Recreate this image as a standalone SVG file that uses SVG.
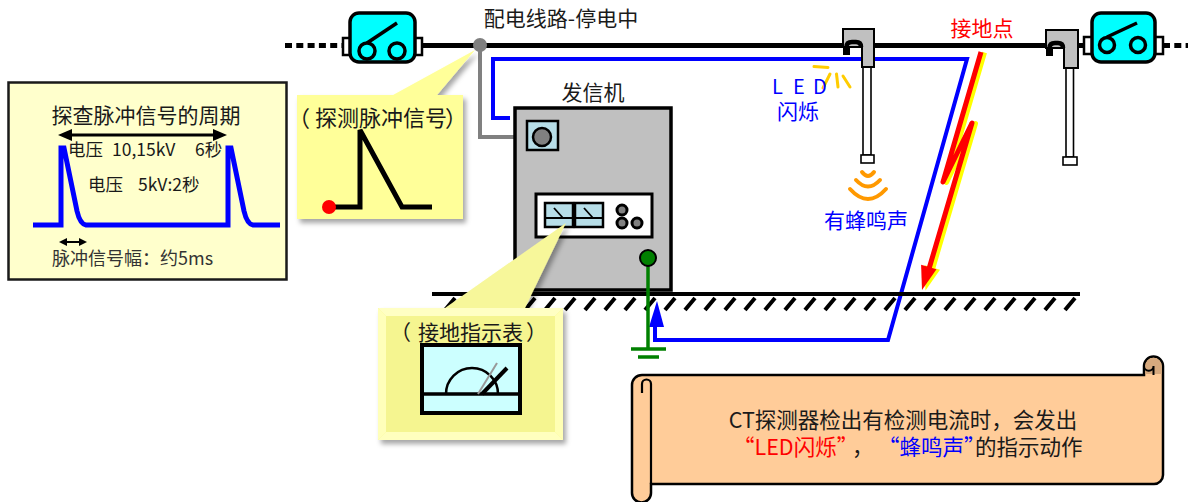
<svg xmlns="http://www.w3.org/2000/svg" width="1188" height="502" viewBox="0 0 1188 502">
<defs>
<style>
text{font-family:"Noto Sans CJK SC","Noto Sans",sans-serif;}
.t{fill:#1a1a1a}
.wire{fill:none;stroke:#000;stroke-width:5}
.sw-body{fill:#00FFFF;stroke:#000;stroke-width:3.5}
.sw-tab{fill:#fff;stroke:#000;stroke-width:2.5}
.sw-c{fill:none;stroke:#000;stroke-width:3.5}
.ct{fill:#C0C0C0;stroke:#000;stroke-width:2}
.hook{fill:none;stroke:#000;stroke-width:4.5}
.rod{fill:#fff;stroke:#000;stroke-width:1.6}
.blue{fill:none;stroke:#0000FF;stroke-width:4}
.hatch{fill:none;stroke:#000;stroke-width:4}
.ray{stroke:#FFCC00;stroke-width:3;stroke-linecap:round}
.wave{fill:none;stroke:#FF9900;stroke-width:4;stroke-linecap:round}
.callout{fill:#FFFF99}
.meter{fill:#B7DEE8;stroke:#000;stroke-width:2.5}
.knob{fill:#808080;stroke:#000;stroke-width:3}
</style>
<filter id="shadow" x="-10%" y="-10%" width="130%" height="130%">
<feDropShadow dx="3" dy="4" stdDeviation="2.5" flood-color="#000" flood-opacity="0.35"/>
</filter>
<marker id="arrow-big" viewBox="0 0 14 12" refX="6" refY="6" markerWidth="14" markerHeight="12" markerUnits="userSpaceOnUse" orient="auto-start-reverse">
<path d="M0,0 L14,6 L0,12 Z" fill="#000"/>
</marker>
<marker id="arrow-small" viewBox="0 0 8 8" refX="3" refY="4" markerWidth="8" markerHeight="8" markerUnits="userSpaceOnUse" orient="auto-start-reverse">
<path d="M0,0 L8,4 L0,8 Z" fill="#000"/>
</marker>
</defs>

<!-- power line -->
<g id="power-line">
<path class="wire" d="M285,45.5 H343" stroke-dasharray="7 4.3"/>
<path class="wire" d="M343,45.5 H1163"/>
<path class="wire" d="M1163,45.5 H1188" stroke-dasharray="7 4.3"/>
</g>

<!-- connectors -->
<g id="connectors">
<!-- blue detection current loop -->
<path class="blue" d="M510,118 H493 V59 H967 L888,340 H655 V325"/>
<polygon points="657,301 664,327 649,327" fill="#0000FF"/>
<!-- probe wire from line to transmitter -->
<path d="M480,45 V137 H542" fill="none" stroke="#808080" stroke-width="4"/>
</g>

<g id="switch-left">
<rect class="sw-tab" x="343" y="38" width="9" height="17"/>
<rect class="sw-tab" x="414" y="38" width="8" height="17"/>
<rect class="sw-body" x="350" y="13" width="65" height="49" rx="9"/>
<circle class="sw-c" cx="367" cy="51" r="8"/>
<circle class="sw-c" cx="397" cy="51" r="8"/>
<line x1="367" y1="43" x2="397" y2="23" stroke="#000" stroke-width="3.5"/>
</g>

<g id="switch-right">
<rect class="sw-tab" x="1084" y="37" width="9" height="17"/>
<rect class="sw-tab" x="1154" y="37" width="9" height="17"/>
<rect class="sw-body" x="1092" y="13" width="63" height="49" rx="9"/>
<circle class="sw-c" cx="1107" cy="45" r="7.5"/>
<circle class="sw-c" cx="1138" cy="45" r="7.5"/>
<line x1="1107" y1="37" x2="1137" y2="23" stroke="#000" stroke-width="3.5"/>
</g>

<!-- earth with hatching -->
<g id="earth">
<path d="M432,294 H1080" stroke="#000" stroke-width="4"/>
<path class="hatch" d="M445 310l10-12M465 310l10-12M485 310l10-12M505 310l10-12M525 310l10-12M545 310l10-12M565 310l10-12M585 310l10-12M605 310l10-12M625 310l10-12M645 310l10-12M665 310l10-12M685 310l10-12M705 310l10-12M725 310l10-12M745 310l10-12M765 310l10-12M785 310l10-12M805 310l10-12M825 310l10-12M845 310l10-12M865 310l10-12M885 310l10-12M905 310l10-12M925 310l10-12M945 310l10-12M965 310l10-12M985 310l10-12M1005 310l10-12M1025 310l10-12M1045 310l10-12M1065 310l10-12"/>
</g>

<g id="ct-sensor-1">
<rect class="rod" x="863" y="67" width="8" height="88"/>
<rect class="rod" x="861" y="155" width="13" height="8" stroke-width="1.8"/>
<path class="ct" d="M843,29 H874 V67 H862 V47 H843 Z"/>
<path class="hook" d="M846.5,54 V47 Q846.5,42 852,42 H856 Q861,42 861,47"/>
<rect x="843" y="46" width="7" height="9" fill="#000"/>
<line class="ray" x1="814" y1="66.5" x2="828" y2="67.5"/>
<line class="ray" x1="823" y1="88" x2="830" y2="74"/>
<line class="ray" x1="836.5" y1="74" x2="838" y2="87"/>
<line class="ray" x1="843" y1="76" x2="850" y2="87"/>
<path class="wave" d="M862,172 Q868,180 874,172"/>
<path class="wave" d="M856,180 Q868,193 880,180"/>
<path class="wave" d="M850,189 Q868,209 886,189"/>
</g>

<g id="ct-sensor-2">
<rect class="rod" x="1066" y="68" width="7.5" height="89"/>
<rect class="rod" x="1063" y="157" width="14" height="8" stroke-width="1.8"/>
<path class="ct" d="M1046,30 H1078 V68 H1064 V48 H1046 Z"/>
<path class="hook" d="M1049.5,55 V48 Q1049.5,43 1055,43 H1058 Q1063,43 1063,48"/>
<rect x="1046" y="47" width="7" height="9" fill="#000"/>
</g>

<g id="transmitter">
<rect x="515" y="108" width="156" height="182" fill="#C0C0C0" stroke="#000" stroke-width="3.5"/>
<rect x="527" y="121" width="31" height="29" class="meter" stroke-width="3"/>
<circle cx="542" cy="137" r="9" fill="#808080" stroke="#000" stroke-width="2.5"/>
<rect x="536" y="194" width="116" height="43" fill="#fff" stroke="#000" stroke-width="3"/>
<rect class="meter" x="545" y="203" width="28" height="24"/>
<line x1="545" y1="218" x2="573" y2="218" stroke="#000" stroke-width="2"/>
<line x1="554" y1="208" x2="563" y2="218" stroke="#000" stroke-width="1.8"/>
<rect class="meter" x="575" y="203" width="28" height="24"/>
<line x1="575" y1="218" x2="603" y2="218" stroke="#000" stroke-width="2"/>
<line x1="584" y1="208" x2="593" y2="218" stroke="#000" stroke-width="1.8"/>
<circle class="knob" cx="622" cy="210" r="5"/>
<circle class="knob" cx="622" cy="223" r="5"/>
<circle class="knob" cx="637" cy="223" r="5"/>
<path d="M648,258 V349" stroke="#008000" stroke-width="3.5"/>
<circle cx="648" cy="258" r="8" fill="#008000" stroke="#000" stroke-width="2"/>
<path d="M631,349 H666 M638,357 H659" stroke="#008000" stroke-width="3.5"/>
</g>

<!-- fault current to earth -->
<g id="fault-path">
<g transform="translate(3.5,0.5)">
<polyline points="981,52 943,182 972,123 926,279" fill="none" stroke="#FFFF00" stroke-width="5" stroke-linejoin="round"/>
<polygon points="922,290 936.5,269.2 921.1,264.7" fill="#FFFF00"/>
</g>
<polyline points="981,52 943,182 972,123 926,279" fill="none" stroke="#FF0000" stroke-width="5" stroke-linejoin="round"/>
<polygon points="922,290 936.5,269.2 921.1,264.7" fill="#FF0000"/>
</g>

<g id="period-panel">
<rect x="8.5" y="82.5" width="278" height="197" fill="#FFFFCC" stroke="#1a1a1a" stroke-width="2.5"/>
<text class="t" x="146" y="123" font-size="21" text-anchor="middle">探查脉冲信号的周期</text>
<line x1="66" y1="135" x2="219" y2="135" stroke="#000" stroke-width="3" marker-start="url(#arrow-big)" marker-end="url(#arrow-big)"/>
<path d="M33,225 H61 V148 H64 L77,211 Q80,224 86,225 H228 V148 H231 L244,211 Q247,224 253,225 H280" fill="none" stroke="#0000FF" stroke-width="5"/>
<text class="t" y="156" font-size="17.5"><tspan x="68">电压</tspan><tspan x="112">10,15kV</tspan><tspan x="195">6秒</tspan></text>
<text class="t" y="191" font-size="17.5"><tspan x="88">电压</tspan><tspan x="138">5kV:2秒</tspan></text>
<line x1="64" y1="242" x2="82" y2="242" stroke="#000" stroke-width="2" marker-start="url(#arrow-small)" marker-end="url(#arrow-small)"/>
<text x="52" y="265" font-size="18" fill="#333">脉冲信号幅：约5ms</text>
</g>

<g id="callout-probe" filter="url(#shadow)">
<polygon class="callout" points="297,95 463,95 463,219 297,219 297,95 393,95 475,50 437,95"/>
</g>
<g id="callout-probe-content">
<text class="t" y="126" font-size="22"><tspan x="288">（</tspan><tspan x="315">探测脉冲信号</tspan><tspan x="445">）</tspan></text>
<path d="M329,207 H360 V130 L402,207 H432" fill="none" stroke="#000" stroke-width="5"/>
<circle cx="329" cy="207" r="7" fill="#FF0000"/>
</g>

<g id="callout-meter">
<g filter="url(#shadow)">
<polygon points="445,308 525,308 566,223" fill="#F7F79A"/>
<rect x="378" y="308" width="185" height="132" fill="#F5F590"/>
</g>
<path d="M378,308 H563 L555,316 H386 Z" fill="#FFFFC4"/>
<path d="M378,308 L386,316 V432 L378,440 Z" fill="#FFFFBA"/>
<path d="M563,308 L555,316 V432 L563,440 Z" fill="#FFFFB4"/>
<path d="M378,440 L386,432 H555 L563,440 Z" fill="#FFFFBE"/>
<text class="t" y="340" font-size="21"><tspan x="390">（</tspan><tspan x="418">接地指示表</tspan><tspan x="526">）</tspan></text>
<rect x="422" y="345" width="98" height="68" fill="#CCFFFF" stroke="#000" stroke-width="4"/>
<line x1="422" y1="394" x2="520" y2="394" stroke="#000" stroke-width="3.5"/>
<path d="M446,394 A26,26 0 0 1 498,394" fill="none" stroke="#000" stroke-width="2.5"/>
<line x1="478" y1="394" x2="497" y2="363" stroke="#999" stroke-width="2"/>
<line x1="482" y1="394" x2="507" y2="368" stroke="#000" stroke-width="4"/>
</g>

<!-- probe tap point on the line -->
<circle id="tap-point" cx="480" cy="45" r="7" fill="#808080"/>

<g id="labels">
<text class="t" x="561" y="26" font-size="21" text-anchor="middle">配电线路-停电中</text>
<text class="t" x="593" y="100" font-size="21" text-anchor="middle">发信机</text>
<text x="982" y="36" font-size="21" text-anchor="middle" fill="#FF0000">接地点</text>
<text x="772 793 813" y="94" font-size="20" fill="#0000FF">LED</text>
<text x="798" y="119" font-size="21" text-anchor="middle" fill="#0000FF">闪烁</text>
<text x="866" y="228" font-size="21" text-anchor="middle" fill="#0000FF">有蜂鸣声</text>
</g>

<g id="note-scroll">
<path d="M632,385 A10,10 0 0 1 642,375 H1144 V366 A9.5,9.5 0 0 1 1163,366 V475 A9,9 0 0 1 1154,484 H651 V493 A9.5,9.5 0 0 1 632,493 Z" fill="#FFCC99" stroke="#000" stroke-width="2.5"/>
<path d="M1145.3,366 A8.2,8.2 0 0 1 1161.7,366 V374 H1145.3 Z" fill="#D6A97E"/>
<path d="M1144,366 A4.75,4.75 0 0 0 1153.5,366 V375" fill="none" stroke="#000" stroke-width="2"/>
<path d="M642,393 V384 A4.5,4.5 0 0 1 651,384 V484" fill="none" stroke="#000" stroke-width="2.2"/>
<text class="t" x="903" y="428" font-size="21.5" text-anchor="middle">CT探测器检出有检测电流时，会发出</text>
<text class="t" y="455" font-size="21.5"><tspan x="733" fill="#FF0000">“LED闪烁”</tspan><tspan x="852">，</tspan><tspan x="878" fill="#0000FF">“蜂鸣声”</tspan><tspan x="975">的指示动作</tspan></text>
</g>
</svg>
